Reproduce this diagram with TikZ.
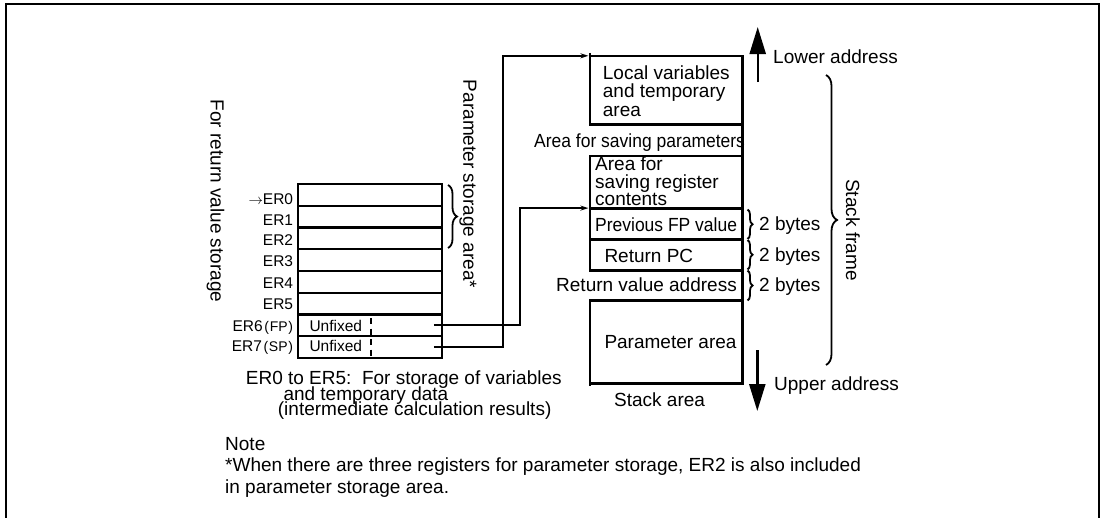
\documentclass[tikz,border=0pt]{standalone}
\usepackage{fontspec}
\setmainfont{Liberation Sans}
\usetikzlibrary{arrows.meta,decorations.pathreplacing}
\begin{document}
\begin{tikzpicture}[x=1pt,y=-1pt,
  txt/.style={inner sep=0pt, anchor=base west, font=\fontsize{19}{19}\selectfont},
  rtxt/.style={inner sep=0pt, rotate=-90, font=\fontsize{19}{19}\selectfont},
  regl/.style={inner sep=0pt, anchor=base east, font=\fontsize{15.5}{16}\selectfont},
  regbox/.style={draw, line width=2.3pt, minimum width=144.6pt, minimum height=21.75pt, inner sep=0pt},
  region/.style={inner sep=0pt, minimum width=152pt},
  boxline/.style={line width=2.6pt},
  conn/.style={line width=2pt, -{Stealth[length=8pt,width=5pt]}, shorten >=1.4pt},
  brc/.style={line width=1.8pt, decorate},
  bigarrow/.style={line width=2.4pt, -{Triangle[length=27pt,width=16pt]}}
]
\useasboundingbox (0,0) rectangle (1102,517);
% outer frame
\draw[line width=2.2pt] (5.7,530) -- (5.7,4) -- (1099.3,4) -- (1099.3,530);

% ---------------- registers ----------------
\foreach \i in {0,...,7}{
  \node[regbox] (r\i) at (370,{184+21.75*(\i+0.5)}) {};
}
\node[regl] (l0) at (293.3,204) {$\rightarrow$ER0};
\node[regl] (l1) at (293.3,225) {ER1};
\node[regl] (l2) at (293.3,245.5) {ER2};
\node[regl] (l3) at (293.3,266) {ER3};
\node[regl] (l4) at (293.3,288.3) {ER4};
\node[regl] (l5) at (293.3,309.3) {ER5};
\node[regl] (l6) at (293.3,331.7) {ER6\hspace{1.5pt}{\fontsize{14}{14}\selectfont(\hspace{0.8pt}FP\hspace{0.8pt})}};
\node[regl] (l7) at (293.3,351.7) {ER7\hspace{1.5pt}{\fontsize{14}{14}\selectfont(\hspace{0.8pt}SP\hspace{0.8pt})}};
\node[regl, anchor=base west] (u6) at (309.3,331.7) {Unfixed};
\node[regl, anchor=base west] (u7) at (309.3,351.7) {Unfixed};
\draw[line width=2.3pt, dash pattern=on 6pt off 4.5pt] (370.7,318) -- (370.7,357);

% rotated labels
\node[rtxt] (retstore) at (215.5,201) {For return value storage};
\node[rtxt] (parstore) at (468,184) {Parameter storage area*};
\draw[brc, decoration={brace, amplitude=9pt}] (448,185) -- (448,248);

% ---------------- stack ----------------
\node[region, minimum height=68pt]   (local)   at (666,90) {};
\node[region, minimum height=52.3pt] (savereg) at (666,182.15) {};
\node[region, minimum height=31pt]   (prevfp)  at (666,223.8) {};
\node[region, minimum height=30.7pt] (retpc)   at (666,254.65) {};
\node[region, minimum height=30.7pt] (retval)  at (666,285.35) {};
\node[region, minimum height=82.3pt] (param)   at (666,341.85) {};

% texts in stack
\node[txt] (t1a) at (602.7,79.3) {Local variables};
\node[txt] (t1b) at (602.7,97.7) {and temporary};
\node[txt] (t1c) at (602.7,116) {area};
\node[txt, xscale=0.92] (t2) at (534,147.3) {Area for saving parameters};
\node[txt] (t3a) at (595,170) {Area for};
\node[txt] (t3b) at (595,188.3) {saving register};
\node[txt] (t3c) at (595,205.7) {contents};
\node[txt, xscale=0.92] (t4) at (595,231.7) {Previous FP value};
\node[txt] (t5) at (604.3,262.5) {Return PC};
\node[txt] (t6) at (556,291.7) {Return value address};
\node[txt] (t7) at (604.3,348.3) {Parameter area};
\node[txt] (t8) at (614,406.7) {Stack area};

% stack lines
\draw[boxline] (local.north west) rectangle (local.south east);
\draw[boxline] (savereg.north west) rectangle (savereg.south east);
\draw[boxline] (prevfp.north west) rectangle (prevfp.south east);
\draw[boxline] (retpc.north west) rectangle (retpc.south east);
\draw[boxline] (param.north west) rectangle (param.south east);
\draw[boxline] (retval.north east) -- (retval.south east);
\draw[boxline] (local.south east) -- (savereg.north east);
\draw[boxline] ([yshift=3pt]local.north west) -- (local.north west);
\draw[boxline] (param.south west) -- ([yshift=-2.5pt]param.south west);

% 2 bytes braces
\draw[brc, decoration={brace, amplitude=5pt}] (747.5,209.5) -- (747.5,239);
\draw[brc, decoration={brace, amplitude=5pt}] (747.5,240) -- (747.5,269.5);
\draw[brc, decoration={brace, amplitude=5pt}] (747.5,270.5) -- (747.5,300.5);
\node[txt] (b1) at (759,230.7) {2 bytes};
\node[txt] (b2) at (759,261.7) {2 bytes};
\node[txt] (b3) at (759,291.7) {2 bytes};

% stack frame brace
\draw[brc, decoration={brace, amplitude=11pt}] (826,75) -- (826,365);
\node[rtxt] (sframe) at (853,230) {Stack frame};

% address arrows
\coordinate (upfoot) at (757.7,82);
\coordinate (uptip) at (757.7,27);
\coordinate (dnfoot) at (757.3,350);
\coordinate (dntip) at (757.3,411);
\draw[bigarrow] (upfoot) -- (uptip);
\draw[bigarrow] (dnfoot) -- (dntip);
\node[txt] (lower) at (773,63.5) {Lower address};
\node[txt] (upper) at (774,390) {Upper address};

% connectors
\coordinate (fpbend) at (520,0);
\coordinate (spbend) at (502.7,0);
\draw[conn] ([xshift=-9.5pt]r6.east) -| (fpbend |- prevfp.north west) -- (prevfp.north west);
\draw[conn] ([xshift=-9.5pt]r7.east) -| (spbend |- local.north west) -- (local.north west);

% bottom texts
\node[txt] (n1) at (245.7,384.3) {ER0 to ER5:\ \ For storage of variables};
\node[txt] (n2) at (283.3,400) {and temporary data};
\node[txt] (n3) at (277.7,415.5) {(intermediate calculation results)};
\node[txt] (note) at (225,450) {Note};
\node[txt] (note1) at (225,471.7) {*When there are three registers for parameter storage, ER2 is also included};
\node[txt] (note2) at (225,493.3) {in parameter storage area.};
\end{tikzpicture}
\end{document}
